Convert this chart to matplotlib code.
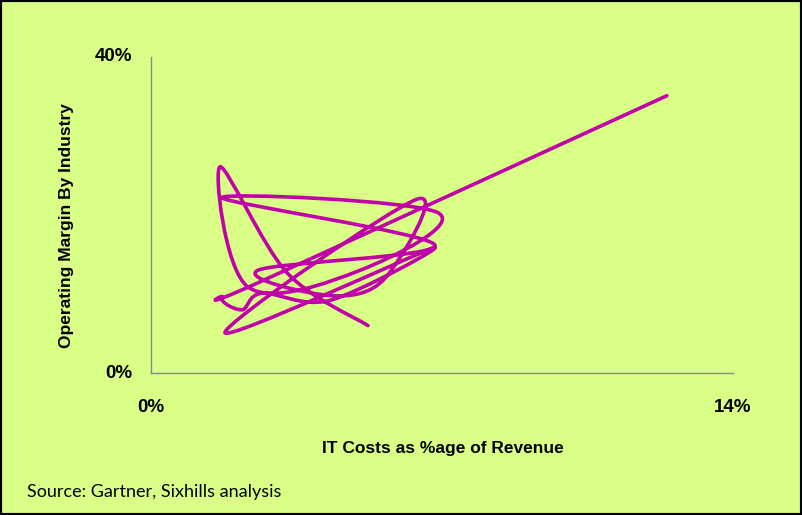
import numpy as np
import matplotlib
matplotlib.use("Agg")
import matplotlib.pyplot as plt
from matplotlib.path import Path
from matplotlib.patches import PathPatch, Rectangle

# IT cost (% of revenue) vs operating margin (%), points in drawing order
it_cost = [12.41, 2.65, 1.71, 2.19, 2.67, 4.31, 6.78, 1.78, 6.40, 5.63, 4.31,
           2.57, 6.83, 1.71, 6.90, 5.03, 2.33, 1.66, 3.27, 5.22]
op_margin = [35.1, 11.6, 9.6, 8.0, 10.1, 9.2, 15.8, 5.1, 22.0, 12.0, 9.8,
             13.0, 16.2, 22.2, 20.3, 13.0, 10.9, 26.1, 12.7, 6.0]

x_ticks = [0, 14]
x_ticklabels = ["0%", "14%"]
y_ticks = [0, 40]
y_ticklabels = ["0%", "40%"]

bg = "#D9FF86"
line_col = "#C000A8"

fig = plt.figure(figsize=(8.02, 5.15), dpi=100, facecolor=bg)
ax = fig.add_axes([151 / 802, 142 / 515, 582 / 802, 316 / 515])
ax.set_facecolor(bg)
ax.set_xlim(0, 14)
ax.set_ylim(0, 40)

# smoothed line like Excel's "smoothed line" scatter
pts = np.column_stack([it_cost, op_margin])
verts = [tuple(pts[0])]
codes = [Path.MOVETO]
n = len(pts)
for i in range(n - 1):
    p0 = pts[i - 1] if i > 0 else pts[i]
    p1 = pts[i]
    p2 = pts[i + 1]
    p3 = pts[i + 2] if i + 2 < n else pts[i + 1]
    c1 = p1 + (p2 - p0) / 6
    c2 = p2 - (p3 - p1) / 6
    verts += [tuple(c1), tuple(c2), tuple(p2)]
    codes += [Path.CURVE4] * 3
ax.add_patch(PathPatch(Path(verts, codes), fill=False, edgecolor=line_col,
                       lw=2.6, capstyle="round", joinstyle="round"))

for s in ["top", "right"]:
    ax.spines[s].set_visible(False)
for s in ["left", "bottom"]:
    ax.spines[s].set_color("#888888")
    ax.spines[s].set_linewidth(1)
ax.set_xticks([])
ax.set_yticks([])

bold = dict(family="Liberation Sans", fontweight="bold", color="black")
for v, lab in zip(y_ticks, y_ticklabels):
    ax.annotate(lab, (0, v), xytext=(-19, 0), textcoords="offset pixels",
                ha="right", va="center", fontsize=13.5, **bold)
for v, lab in zip(x_ticks, x_ticklabels):
    ax.annotate(lab, (v, 0), xytext=(0, -34), textcoords="offset pixels",
                ha="center", va="center", fontsize=13.5, **bold)

fig.text(67 / 802, 1 - 226 / 515, "Operating Margin By Industry", rotation=90,
         ha="center", va="center", fontsize=12.5, **bold)
fig.text(443 / 802, 1 - 448 / 515, "IT Costs as %age of Revenue",
         ha="center", va="center", fontsize=12.5, **bold)
fig.text(27 / 802, 1 - 492 / 515, "Source: Gartner, Sixhills analysis",
         ha="left", va="center", fontsize=13, family="Lato", color="black")

fig.patches.append(Rectangle((0, 0), 1, 1, transform=fig.transFigure,
                             fill=False, edgecolor="black", lw=3))

fig.savefig("out.png", dpi=100, facecolor=bg)
